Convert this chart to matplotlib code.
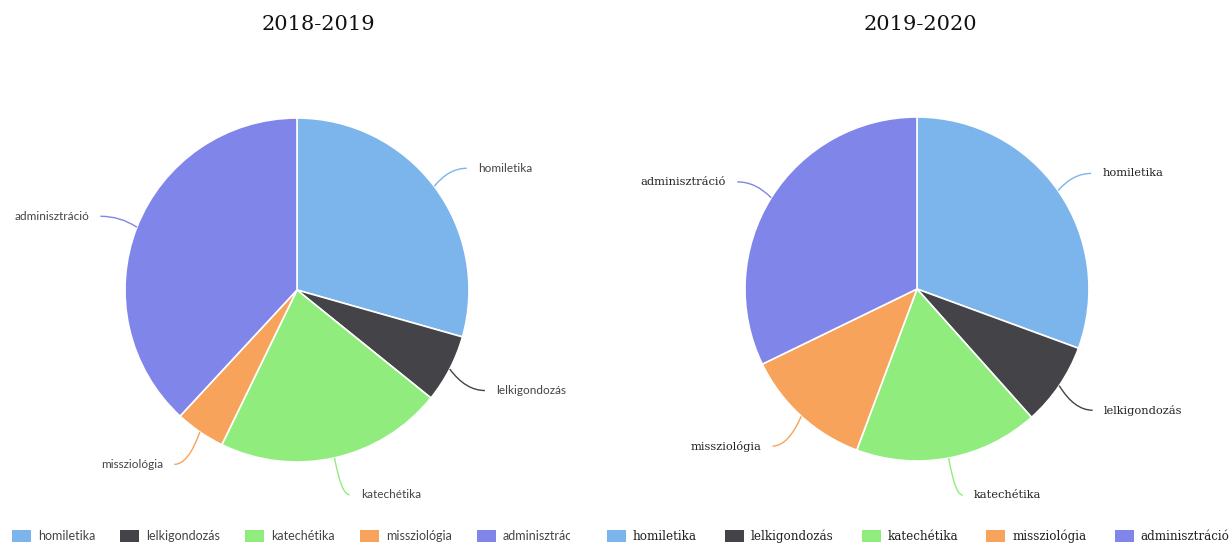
import numpy as np
import matplotlib
matplotlib.use("Agg")
import matplotlib.pyplot as plt
from matplotlib.path import Path
from matplotlib.patches import PathPatch, Rectangle
from matplotlib.transforms import IdentityTransform, Bbox

categories = ["homiletika", "lelkigondozás", "katechétika", "missziológia", "adminisztráció"]
colors = ["#7cb5ec", "#434348", "#90ed7d", "#f7a35c", "#8085e9"]
years = ["2018-2019", "2019-2020"]
values_2018 = [29.4, 6.4, 21.4, 4.7, 38.1]
values_2019 = [30.6, 7.8, 17.3, 12.1, 32.2]

W, H = 1232, 545
fig = plt.figure(figsize=(W / 100, H / 100), dpi=100)
R = 172  # pie radius in px
L = 1.45  # axis half-range in radius units


def add_pie(cx, cy, values, title, tx, label_font, label_size, label_color):
    size = 2 * L * R
    ax = fig.add_axes([(cx - size / 2) / W, (H - cy - size / 2) / H, size / W, size / H])
    wedges, _ = ax.pie(values, colors=colors, startangle=90, counterclock=False,
                       radius=1, wedgeprops=dict(edgecolor="white", linewidth=1.2))
    ax.set_xlim(-L, L)
    ax.set_ylim(-L, L)
    ax.set_aspect("equal")
    ax.axis("off")
    for w, name, col in zip(wedges, categories, colors):
        mid = np.deg2rad((w.theta1 + w.theta2) / 2)
        dx, dy = np.cos(mid), np.sin(mid)
        side = 1 if dx >= 0 else -1
        # lower labels sit a bit further down, like the original
        yoff = -0.045 if dy < 0 else 0.0
        p0 = (1.0 * dx, 1.0 * dy)
        p2 = (1.174 * dx + side * 0.05, 1.174 * dy + yoff)
        c = (p0[0] + (p2[0] - p0[0]) * 0.45, p2[1])
        path = Path([p0, c, p2], [Path.MOVETO, Path.CURVE3, Path.CURVE3])
        ax.add_patch(PathPatch(path, facecolor="none", edgecolor=col, lw=1, clip_on=False))
        ax.text(p2[0] + side * 0.065, p2[1], name, ha="left" if side > 0 else "right",
                va="center", fontsize=label_size, family=label_font, color=label_color,
                clip_on=False)
    fig.text(tx / W, 1 - 25 / H, title, ha="center", va="center",
             fontsize=15, family="DejaVu Serif", color="#111111")
    return ax


add_pie(297, 290, values_2018, years[0], 318, "Lato", 8.5, "#444444")
add_pie(917, 289, values_2019, years[1], 920, "DejaVu Serif", 8.2, "#222222")


def add_legend(x0, y_top, font, size, color, gap, clip_right=None):
    fig.canvas.draw()
    renderer = fig.canvas.get_renderer()
    x = x0
    y = H - y_top
    clip = None
    if clip_right is not None:
        clip = Bbox.from_extents(0, 0, clip_right, H)
    for name, col in zip(categories, colors):
        sq = Rectangle((x, y - 6), 19, 12, facecolor=col, edgecolor="none",
                       transform=IdentityTransform())
        fig.add_artist(sq)
        t = fig.text(x + 26, y, name, transform=IdentityTransform(), va="center",
                     ha="left", fontsize=size, family=font, color=color)
        if clip is not None:
            sq.set_clip_box(clip)
            t.set_clip_box(clip)
            t.set_clip_on(True)
        w = t.get_window_extent(renderer).width
        x += 26 + w + gap


add_legend(12, 536, "Lato", 9, "#444444", 25, clip_right=570)
add_legend(607, 536, "DejaVu Serif", 8.6, "#222222", 28)

fig.savefig("out.png", dpi=100)
